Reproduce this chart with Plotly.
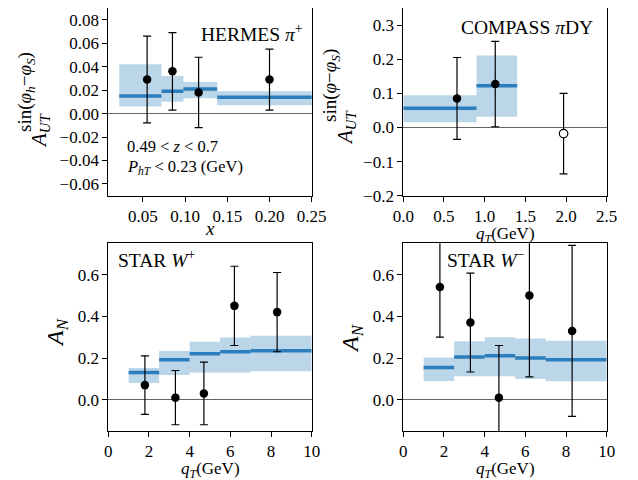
import plotly.graph_objects as go

# ---------------- data ----------------
# HERMES pi+
herm_x = [0.055, 0.085, 0.116, 0.200]
herm_y = [0.029, 0.036, 0.018, 0.029]
herm_err = [0.037, 0.033, 0.030, 0.026]
herm_edges = [0.022, 0.072, 0.098, 0.138, 0.26]
herm_lo = [0.006, 0.010, 0.013, 0.007]
herm_hi = [0.042, 0.032, 0.027, 0.019]
herm_mid = [0.015, 0.019, 0.021, 0.014]

# COMPASS pi DY
comp_x = [0.66, 1.13]
comp_y = [0.085, 0.127]
comp_err = [0.120, 0.125]
comp_open_x = [1.97]
comp_open_y = [-0.018]
comp_open_err = [0.118]
comp_edges = [0.0, 0.9, 1.4]
comp_lo = [0.015, 0.031]
comp_hi = [0.094, 0.211]
comp_mid = [0.056, 0.122]

# STAR W+
wp_x = [1.8, 3.3, 4.7, 6.2, 8.3]
wp_y = [0.07, 0.01, 0.03, 0.45, 0.42]
wp_err = [0.14, 0.13, 0.15, 0.19, 0.19]
star_edges = [1.0, 2.5, 4.0, 5.5, 7.0, 10.0]
wp_lo = [0.080, 0.118, 0.131, 0.131, 0.136]
wp_hi = [0.152, 0.234, 0.278, 0.298, 0.307]
wp_mid = [0.131, 0.192, 0.221, 0.230, 0.235]

# STAR W-
wm_x = [1.8, 3.3, 4.7, 6.2, 8.3]
wm_y = [0.54, 0.37, 0.01, 0.50, 0.33]
wm_err = [0.24, 0.237, 0.25, 0.39, 0.41]
wm_lo = [0.090, 0.112, 0.112, 0.099, 0.088]
wm_hi = [0.203, 0.280, 0.299, 0.294, 0.283]
wm_mid = [0.155, 0.205, 0.211, 0.200, 0.192]

# ---------------- style ----------------
OFF = 8                     # page body margin
W, H = 638 - OFF, 480 - OFF
FONT = "Liberation Serif, Times New Roman, serif"
BAND = "rgba(31,119,180,0.3)"
LINE = "rgb(44,125,187)"

def px(x):
    return (x - OFF) / W

def py(y):
    return 1 - (y - OFF) / H

fig = go.Figure()

def add_panel(idx, edges, lo, hi, mid, xs, ys, errs):
    xa = "x" if idx == 1 else f"x{idx}"
    ya = "y" if idx == 1 else f"y{idx}"
    centers = [(edges[i] + edges[i + 1]) / 2 for i in range(len(lo))]
    widths = [edges[i + 1] - edges[i] for i in range(len(lo))]
    fig.add_trace(go.Bar(x=centers, y=[h - l for h, l in zip(hi, lo)], base=lo,
                         width=widths, marker=dict(color=BAND, line=dict(width=0)),
                         xaxis=xa, yaxis=ya, showlegend=False, hoverinfo="skip"))
    lx, ly = [], []
    for i, m in enumerate(mid):
        lx += [edges[i], edges[i + 1], None]
        ly += [m, m, None]
    fig.add_trace(go.Scatter(x=lx, y=ly, mode="lines", line=dict(color=LINE, width=3.5),
                             xaxis=xa, yaxis=ya, showlegend=False, hoverinfo="skip"))
    fig.add_trace(go.Scatter(x=xs, y=ys, mode="markers",
                             marker=dict(color="black", size=8.5),
                             error_y=dict(type="data", array=errs, color="black",
                                          thickness=1.2, width=4),
                             xaxis=xa, yaxis=ya, showlegend=False))

add_panel(1, herm_edges, herm_lo, herm_hi, herm_mid, herm_x, herm_y, herm_err)
add_panel(2, comp_edges, comp_lo, comp_hi, comp_mid, comp_x, comp_y, comp_err)
fig.add_trace(go.Scatter(x=comp_open_x, y=comp_open_y, mode="markers",
                         marker=dict(color="white", size=8.5, line=dict(color="black", width=1.2)),
                         error_y=dict(type="data", array=comp_open_err, color="black",
                                      thickness=1.2, width=4),
                         xaxis="x2", yaxis="y2", showlegend=False))
add_panel(3, star_edges, wp_lo, wp_hi, wp_mid, wp_x, wp_y, wp_err)
add_panel(4, star_edges, wm_lo, wm_hi, wm_mid, wm_x, wm_y, wm_err)

axis_common = dict(showline=True, linecolor="black", linewidth=1, mirror=True,
                   ticks="outside", ticklen=5, tickwidth=1, tickcolor="black",
                   showgrid=False, automargin=False,
                   tickfont=dict(family=FONT, size=17, color="black"))

dom_x_left = [px(108.3), px(311.7)]
dom_x_right = [px(403.3), px(606.7)]
dom_y_top = [py(195.7), min(1.0, py(7.3))]
dom_y_bot = [py(431.0), py(243.3)]

fig.update_layout(
    width=W, height=H, autosize=False,
    margin=dict(l=0, r=0, t=0, b=0, pad=0, autoexpand=False),
    paper_bgcolor="white", plot_bgcolor="white",
    barmode="overlay",
    xaxis=dict(domain=dom_x_left, range=[0.009, 0.25], tickvals=[0.05, 0.10, 0.15, 0.20, 0.25],
               tickformat=".2f", zeroline=False, anchor="y", **axis_common),
    yaxis=dict(domain=dom_y_top, range=[-0.07, 0.09], tickvals=[-0.06, -0.04, -0.02, 0.0, 0.02, 0.04, 0.06, 0.08],
               tickformat=".2f", zeroline=True, zerolinecolor="#666", zerolinewidth=1.2, anchor="x", **axis_common),
    xaxis2=dict(domain=dom_x_right, range=[0, 2.5], tickvals=[0, 0.5, 1.0, 1.5, 2.0, 2.5],
                tickformat=".1f", zeroline=False, anchor="y2", **axis_common),
    yaxis2=dict(domain=dom_y_top, range=[-0.2, 0.35], tickvals=[-0.2, -0.1, 0.0, 0.1, 0.2, 0.3],
                tickformat=".1f", zeroline=True, zerolinecolor="#666", zerolinewidth=1.2, anchor="x2", **axis_common),
    xaxis3=dict(domain=dom_x_left, range=[0, 10], tickvals=[0, 2, 4, 6, 8, 10],
                tickformat="d", zeroline=False, anchor="y3", **axis_common),
    yaxis3=dict(domain=dom_y_bot, range=[-0.15, 0.75], tickvals=[0.0, 0.2, 0.4, 0.6],
                tickformat=".1f", zeroline=True, zerolinecolor="#666", zerolinewidth=1.2, anchor="x3", **axis_common),
    xaxis4=dict(domain=dom_x_right, range=[0, 10], tickvals=[0, 2, 4, 6, 8, 10],
                tickformat="d", zeroline=False, anchor="y4", **axis_common),
    yaxis4=dict(domain=dom_y_bot, range=[-0.15, 0.75], tickvals=[0.0, 0.2, 0.4, 0.6],
                tickformat=".1f", zeroline=True, zerolinecolor="#666", zerolinewidth=1.2, anchor="x4", **axis_common),
)

def ann(text, x, y, size=17, xanchor="center", yanchor="middle", angle=0):
    fig.add_annotation(text=text, x=px(x), y=py(y), xref="paper", yref="paper",
                       xanchor=xanchor, yanchor=yanchor, showarrow=False, textangle=angle,
                       font=dict(family=FONT, size=size, color="black"))

# panel texts
ann("HERMES <i>π</i><sup>+</sup>", 305, 33, size=19.5, xanchor="right")
ann("0.49 < <i>z</i> < 0.7", 125, 146, size=16.5, xanchor="left")
ann("<i>P</i><sub><i>hT</i></sub> < 0.23 (GeV)", 125, 167, size=16.5, xanchor="left")
ann("COMPASS <i>π</i>DY", 459, 27, size=19.5, xanchor="left")
ann("STAR <i>W</i><sup>+</sup>", 116, 259, size=19.5, xanchor="left")
ann("STAR <i>W</i><sup>−</sup>", 445, 259, size=19.5, xanchor="left")

# x labels
ann("<i>x</i>", 210, 228, size=19)
ann("<i>q</i><sub><i>T</i></sub>(GeV)", 505, 235, size=17)
ann("<i>q</i><sub><i>T</i></sub>(GeV)", 210, 470, size=17)
ann("<i>q</i><sub><i>T</i></sub>(GeV)", 505, 470, size=17)

# y labels
ann("<i>A</i><sub><i>UT</i></sub>", 40, 131, size=21, angle=-90)
ann("sin(<i>φ</i><sub><i>h</i></sub>−<i>φ</i><sub><i>S</i></sub>)", 26, 92, size=19, angle=-90)
ann("<i>A</i><sub><i>UT</i></sub>", 346, 128, size=21, angle=-90)
ann("sin(<i>φ</i>−<i>φ</i><sub><i>S</i></sub>)", 331, 86, size=19, angle=-90)
ann("<i>A</i><sub><i>N</i></sub>", 57, 333, size=24, angle=-90)
ann("<i>A</i><sub><i>N</i></sub>", 352, 338, size=24, angle=-90)

fig.write_html("out.html")
